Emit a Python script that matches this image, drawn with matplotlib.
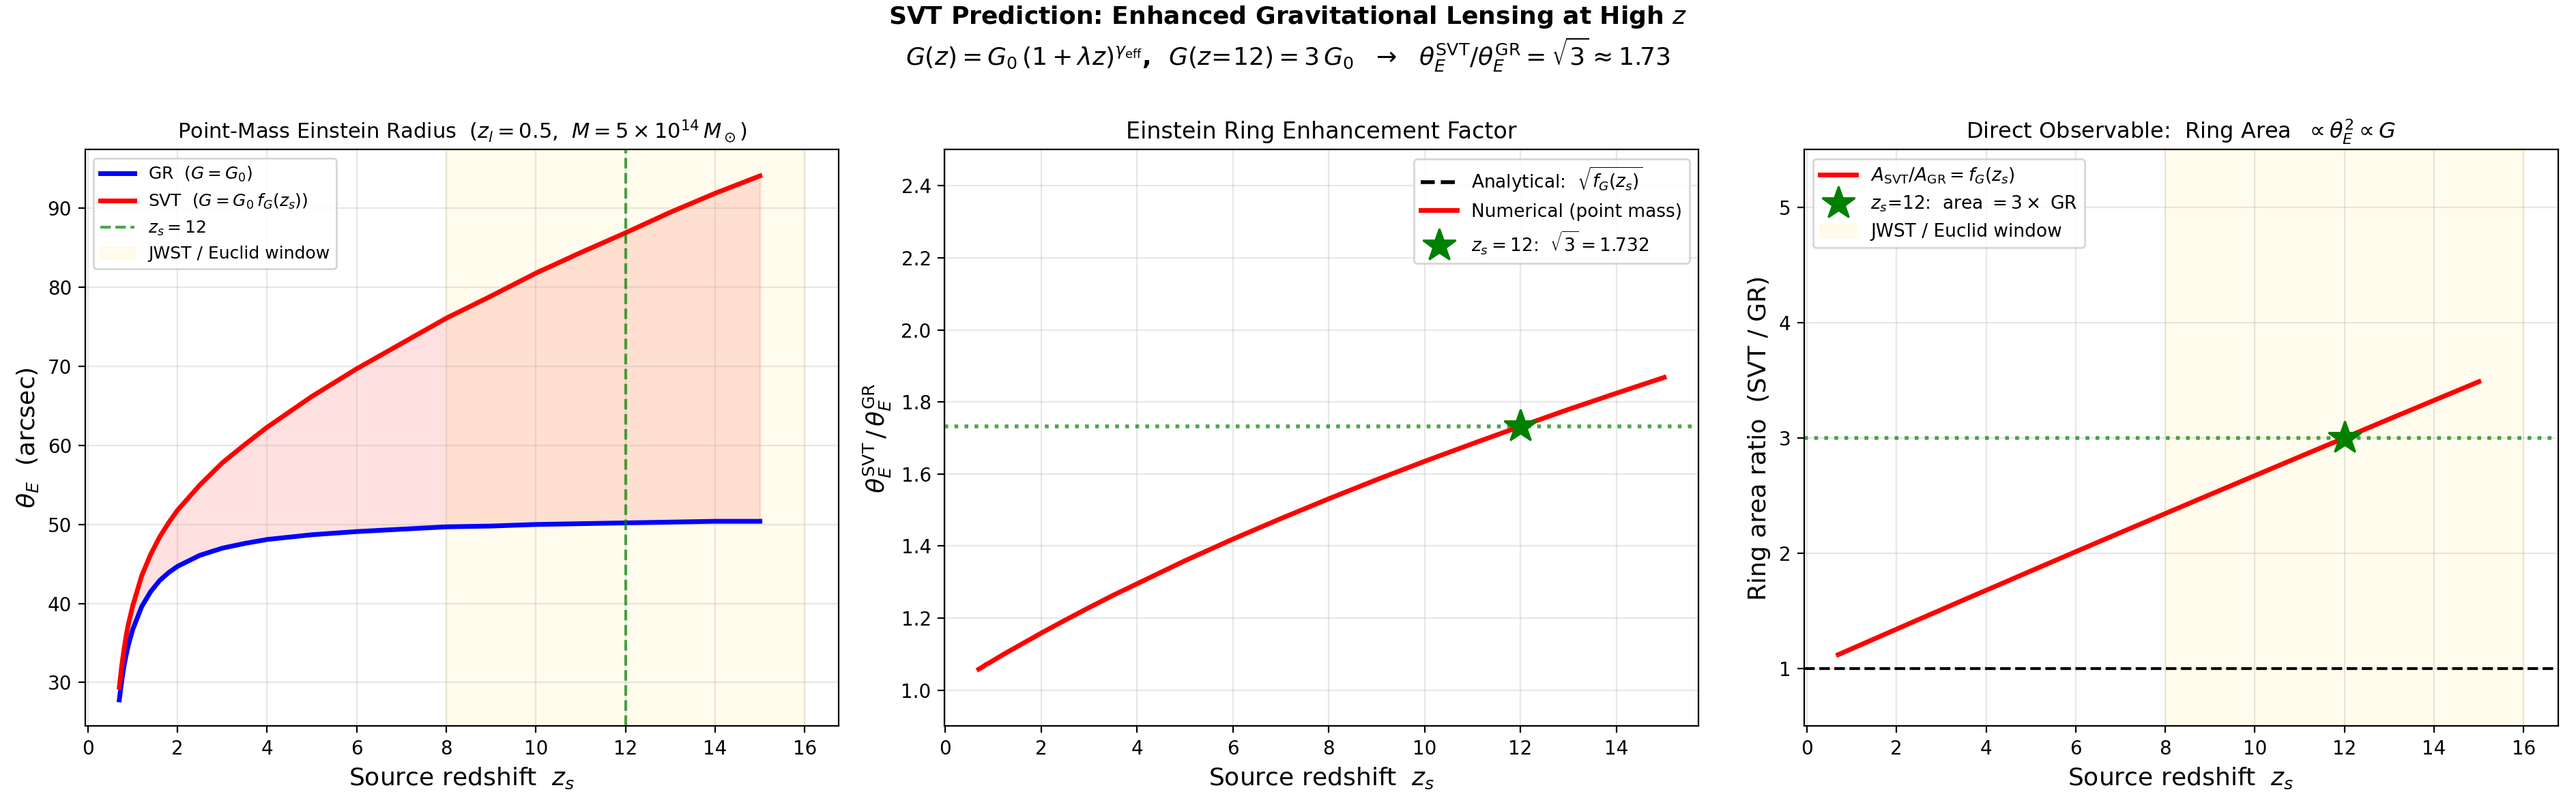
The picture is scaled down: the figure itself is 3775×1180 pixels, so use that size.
import numpy as np
import matplotlib
matplotlib.use("Agg")
import matplotlib.pyplot as plt

# source redshifts sampled along the curves
z_s = [0.7, 0.75, 0.8, 0.85, 0.9, 1.0, 1.2, 1.4, 1.6, 1.8, 2.0, 2.5, 3.0, 3.5,
       4.0, 5.0, 6.0, 7.0, 8.0, 9.0, 10.0, 11.0, 12.0, 13.0, 14.0, 15.0]

# Einstein radius (arcsec), GR and SVT
theta_gr = [27.8, 30.0, 31.9, 33.4, 34.7, 36.7, 39.6, 41.5, 42.9, 43.9, 44.7, 46.1, 47.0, 47.6,
            48.1, 48.7, 49.1, 49.4, 49.7, 49.8, 50.0, 50.1, 50.2, 50.3, 50.4, 50.4]
theta_svt = [29.4, 31.9, 34.0, 35.8, 37.3, 39.7, 43.5, 46.2, 48.4, 50.2, 51.8, 55.0, 57.8, 60.1,
             62.3, 66.2, 69.7, 72.9, 76.1, 78.9, 81.8, 84.4, 86.9, 89.5, 91.9, 94.1]

# enhancement factor theta_SVT / theta_GR
ratio = [1.058, 1.062, 1.066, 1.071, 1.074, 1.082, 1.098, 1.113, 1.128, 1.143, 1.158, 1.194, 1.229, 1.263,
         1.295, 1.359, 1.419, 1.476, 1.531, 1.584, 1.635, 1.684, 1.732, 1.779, 1.824, 1.868]

# ring area ratio f_G(z_s)
area_ratio = [1.120, 1.128, 1.137, 1.146, 1.154, 1.171, 1.205, 1.239, 1.273, 1.307, 1.341, 1.426, 1.510, 1.595,
              1.678, 1.846, 2.013, 2.179, 2.344, 2.509, 2.673, 2.837, 3.000, 3.164, 3.326, 3.488]

z_mark = 12
ratio_mark = 1.732
area_mark = 3.0
window = (8, 16)

fig, axes = plt.subplots(1, 3, figsize=(18.875, 5.9), dpi=200)
fig.subplots_adjust(left=0.033, right=0.993, bottom=0.098, top=0.814, wspace=0.14)

fig.suptitle("SVT Prediction: Enhanced Gravitational Lensing at High $z$\n"
             r"$G(z) = G_0\,(1+\lambda z)^{\gamma_{\rm eff}}$,  $G(z\!=\!12) = 3\,G_0$  "
             r"$\rightarrow$  $\theta_E^{\rm SVT}/\theta_E^{\rm GR} = \sqrt{3} \approx 1.73$",
             fontsize=13, fontweight='bold', y=0.995)

# panel 1: Einstein radius
ax = axes[0]
ax.plot(z_s, theta_gr, color='blue', lw=2.5, label=r'GR  $(G=G_0)$')
ax.plot(z_s, theta_svt, color='red', lw=2.5, label=r'SVT  $(G=G_0\,f_G(z_s))$')
ax.fill_between(z_s, theta_gr, theta_svt, color='red', alpha=0.12)
ax.axvline(z_mark, color='green', ls='--', lw=1.5, alpha=0.7, label=r'$z_s=12$')
ax.axvspan(window[0], window[1], color='gold', alpha=0.07, label='JWST / Euclid window')
ax.set_xlabel(r'Source redshift  $z_s$', fontsize=13)
ax.set_ylabel(r'$\theta_E$  (arcsec)', fontsize=13)
ax.set_title(r'Point-Mass Einstein Radius  ($z_l=0.5$,  $M=5\times10^{14}\,M_\odot$)', fontsize=11)
ax.legend(loc='upper left', fontsize=9)
ax.grid(True, alpha=0.3)

# panel 2: enhancement factor
ax = axes[1]
ax.plot(z_s, ratio, 'k--', lw=2, label=r'Analytical:  $\sqrt{f_G(z_s)}$')
ax.plot(z_s, ratio, color='red', lw=2.5, label='Numerical (point mass)')
ax.axhline(ratio_mark, color='green', ls=':', lw=2, alpha=0.7)
ax.plot(z_mark, ratio_mark, '*', color='green', markersize=18, zorder=5,
        label=r'$z_s=12$:  $\sqrt{3}=1.732$')
ax.set_ylim(0.9, 2.5)
ax.set_xlabel(r'Source redshift  $z_s$', fontsize=13)
ax.set_ylabel(r'$\theta_E^{\rm SVT}\,/\,\theta_E^{\rm GR}$', fontsize=13)
ax.set_title('Einstein Ring Enhancement Factor', fontsize=12)
ax.legend(loc='upper right', fontsize=9.5)
ax.grid(True, alpha=0.3)

# panel 3: ring area
ax = axes[2]
ax.plot(z_s, area_ratio, color='red', lw=2.5, label=r'$A_{\rm SVT}/A_{\rm GR} = f_G(z_s)$')
ax.axhline(1, color='black', ls='--', lw=1.5)
ax.axhline(area_mark, color='green', ls=':', lw=2, alpha=0.7)
ax.plot(z_mark, area_mark, '*', color='green', markersize=18, zorder=5,
        label=r'$z_s$=12:  area $=3\times$ GR')
ax.axvspan(window[0], window[1], color='gold', alpha=0.07, label='JWST / Euclid window')
ax.set_ylim(0.5, 5.5)
ax.set_xlabel(r'Source redshift  $z_s$', fontsize=13)
ax.set_ylabel('Ring area ratio  (SVT / GR)', fontsize=13)
ax.set_title(r'Direct Observable:  Ring Area  $\propto \theta_E^2 \propto G$', fontsize=11.5)
ax.legend(loc='upper left', fontsize=9.5)
ax.grid(True, alpha=0.3)

fig.savefig('out.png', dpi=200)
